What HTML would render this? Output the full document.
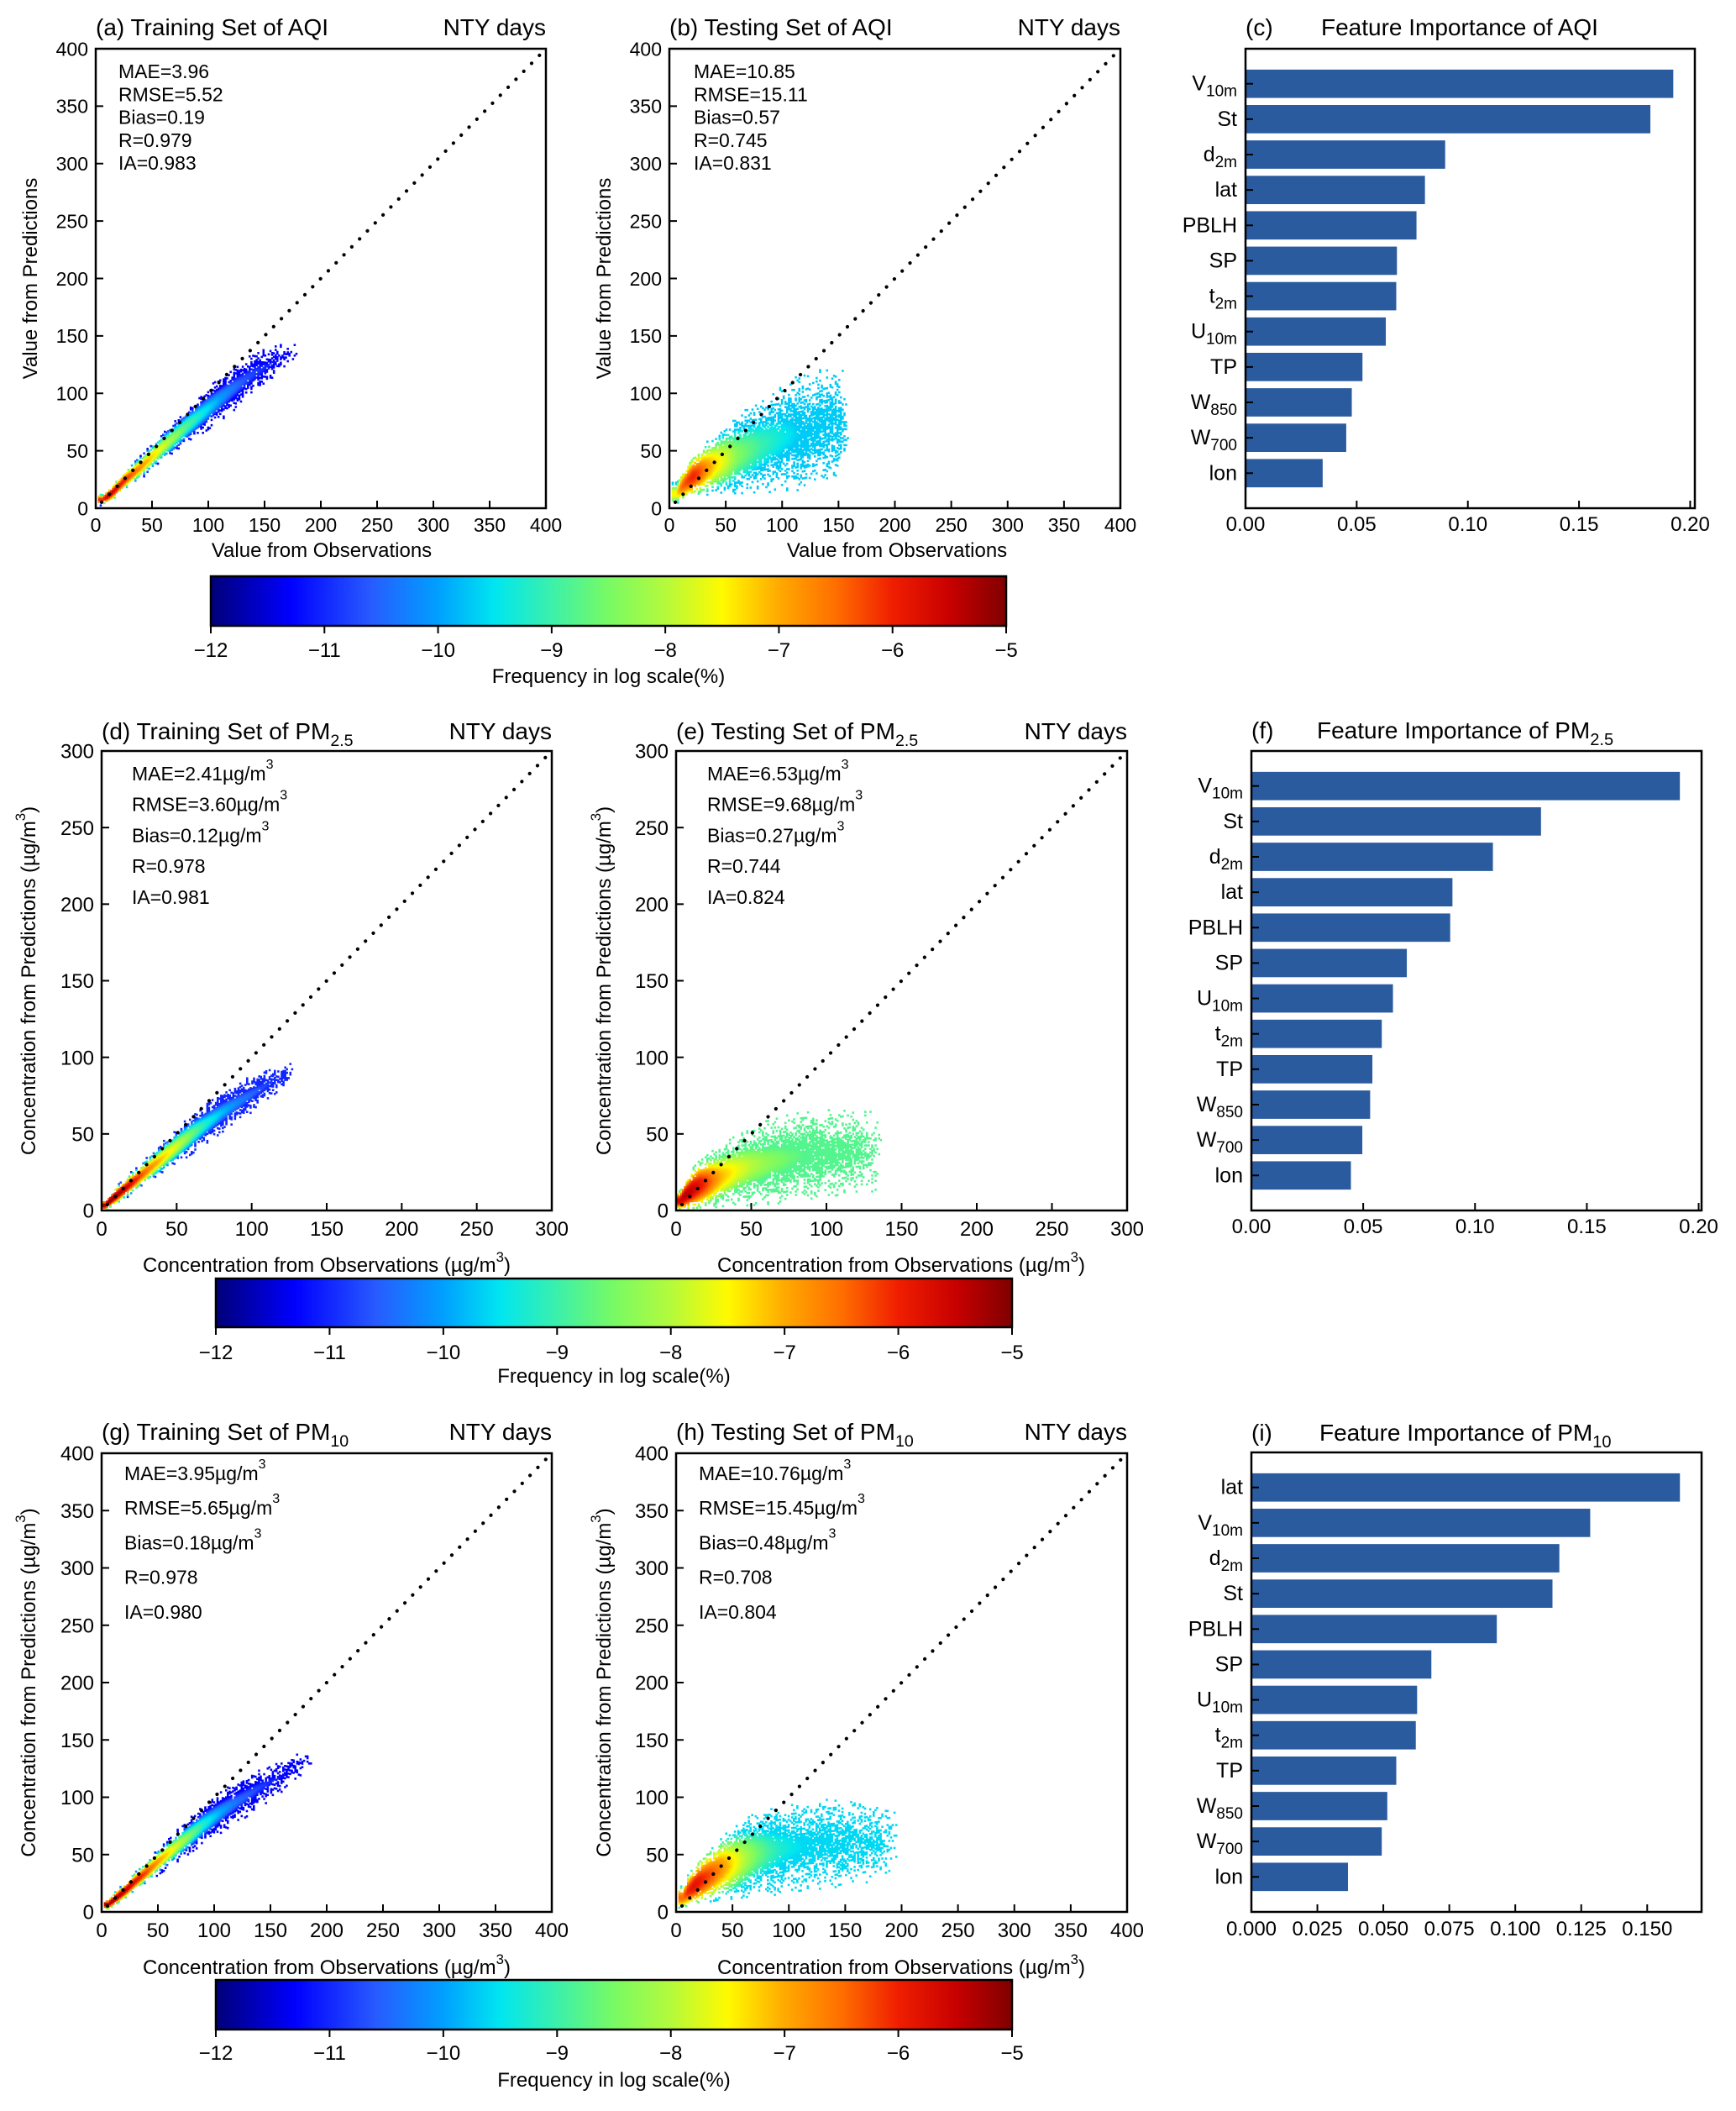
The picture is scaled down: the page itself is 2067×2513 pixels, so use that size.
<!DOCTYPE html>
<html><head><meta charset="utf-8"><title>Model evaluation figure</title>
<style>
html,body{margin:0;padding:0;background:#fff;}
svg{display:block;}
text{font-family:"Liberation Sans",Arial,sans-serif;fill:#000;}
.nar{font-family:"Liberation Sans Narrow","Liberation Sans",sans-serif;}
</style></head>
<body>
<svg id="fig" xmlns="http://www.w3.org/2000/svg" width="2067" height="2513" viewBox="0 0 2067 2513">
<defs>
<linearGradient id="jet" x1="0" x2="1" y1="0" y2="0">
<stop offset="0" stop-color="rgb(0,0,120)"/>
<stop offset="0.1" stop-color="rgb(0,0,255)"/>
<stop offset="0.2" stop-color="rgb(40,90,255)"/>
<stop offset="0.286" stop-color="rgb(0,160,255)"/>
<stop offset="0.357" stop-color="rgb(0,230,240)"/>
<stop offset="0.429" stop-color="rgb(60,240,170)"/>
<stop offset="0.5" stop-color="rgb(120,250,100)"/>
<stop offset="0.571" stop-color="rgb(180,250,60)"/>
<stop offset="0.643" stop-color="rgb(255,250,0)"/>
<stop offset="0.714" stop-color="rgb(255,170,0)"/>
<stop offset="0.786" stop-color="rgb(255,110,0)"/>
<stop offset="0.857" stop-color="rgb(240,30,0)"/>
<stop offset="0.929" stop-color="rgb(200,0,0)"/>
<stop offset="1" stop-color="rgb(128,0,0)"/>
</linearGradient>
</defs>
</svg>
<script>
// ---------- data: scatter density clouds (obs bin, mean prediction, spread, peak log-frequency) ----------
const aObs=[5,10,15,20,25,30,40,50,60,70,80,90,100,110,120,130,140,150,160,170];
const aPred=[7,10,14,19,24,28,36,45,54,62,71,79,87,95,103,110,117,122,128,135];
const aSpread=[4,5,6,6,7,7,8,9,10,11,12,13,14,15,15,15,15,12,10,8];
const aPeak=[-6,-5.5,-5.6,-5.8,-6,-6.3,-6.8,-7.3,-7.8,-8.3,-8.8,-9.2,-9.6,-10,-10.3,-10.6,-10.8,-11,-11.2,-11.4];

const bObs=[5,10,15,20,25,30,40,50,60,70,80,90,100,110,120,130,140,150];
const bPred=[12,18,23,27,30,33,38,42,46,50,54,58,62,64,66,70,72,75];
const bSpread=[8,10,12,14,15,17,20,24,27,30,32,34,36,38,38,38,38,36];
const bPeak=[-7.5,-6.5,-6.2,-6.0,-6.2,-6.6,-7.3,-7.8,-8.4,-8.7,-9,-9.2,-9.4,-9.6,-9.8,-10,-10.2,-10.4];

const dObs=[2,5,10,15,20,25,30,40,50,60,70,80,90,100,110,120];
const dPred=[3,6,10,14,18,22,26,34,42,50,57,64,70,76,82,88];
const dSpread=[3,4,5,5,6,6,7,8,9,10,10,10,10,9,8,6];
const dPeak=[-5.2,-5.1,-5.2,-5.4,-5.8,-6.2,-6.6,-7.2,-7.8,-8.6,-9.3,-9.8,-10.2,-10.5,-10.8,-11];

const eObs=[2,5,10,15,20,25,30,40,50,60,70,80,90,100,120];
const ePred=[6,9,13,16,18,20,22,26,29,31,33,35,36,37,38];
const eSpread=[5,8,11,13,14,15,16,18,20,21,22,22,22,22,20];
const ePeak=[-5.6,-5.4,-5.5,-5.8,-6.2,-6.7,-7.1,-7.6,-8,-8.3,-8.5,-8.7,-8.9,-9.1,-9.3];

const gObs=[5,10,20,30,40,50,60,70,80,90,100,110,120,130,140,150,160,170,180];
const gPred=[6,10,18,27,35,44,52,60,68,76,83,90,96,102,108,113,118,125,130];
const gSpread=[4,5,6,7,8,9,10,11,12,13,14,14,14,14,13,12,10,9,8];
const gPeak=[-5.3,-5.2,-5.4,-5.8,-6.3,-6.9,-7.4,-8,-8.6,-9.2,-9.7,-10.1,-10.4,-10.6,-10.8,-11,-11.2,-11.4,-11.5];

const hObs=[5,10,15,20,30,40,50,60,70,80,90,100,120,140,160,180];
const hPred=[12,18,22,26,32,38,42,46,50,52,54,56,58,60,60,60];
const hSpread=[8,11,13,15,18,21,24,26,28,30,30,30,30,30,28,25];
const hPeak=[-6.5,-6,-5.8,-5.9,-6.3,-6.8,-7.4,-8,-8.5,-8.9,-9.2,-9.4,-9.7,-10,-10.3,-10.6];

// ---------- data: feature importance ----------
const cLabels=["V|10m","St","d|2m","lat","PBLH","SP","t|2m","U|10m","TP","W|850","W|700","lon"];
const cValues=[0.1924,0.1821,0.0898,0.0807,0.0769,0.0681,0.0678,0.0631,0.0526,0.0478,0.0453,0.0347];
const fLabels=["V|10m","St","d|2m","lat","PBLH","SP","U|10m","t|2m","TP","W|850","W|700","lon"];
const fValues=[0.1916,0.1295,0.108,0.0899,0.0889,0.0695,0.0633,0.0583,0.0541,0.0531,0.0496,0.0445];
const iLabels=["lat","V|10m","d|2m","St","PBLH","SP","U|10m","t|2m","TP","W|850","W|700","lon"];
const iValues=[0.1624,0.1284,0.1167,0.1141,0.0930,0.0682,0.0628,0.0623,0.0549,0.0515,0.0494,0.0366];

const aqiTicks=[0,50,100,150,200,250,300,350,400];
const pm25Ticks=[0,50,100,150,200,250,300];
const fiTicks2=["0.00","0.05","0.10","0.15","0.20"];
const fiTicksI=["0.000","0.025","0.050","0.075","0.100","0.125","0.150"];
const cbTicks=[-12,-11,-10,-9,-8,-7,-6,-5];

const NS="http://www.w3.org/2000/svg";
const svg=document.getElementById('fig');
function mk(tag,attrs,parent){const e=document.createElementNS(NS,tag);for(const k in attrs)e.setAttribute(k,attrs[k]);(parent||svg).appendChild(e);return e;}
function txt(s,x,y,size,anchor,parent,cls){const t=mk('text',{x:x,y:y,'font-size':size,'text-anchor':anchor||'start'},parent);if(cls)t.setAttribute('class',cls);t.textContent=s;return t;}

const stops=[[-12,0,0,120],[-11.3,0,0,255],[-10.6,40,90,255],[-10,0,160,255],[-9.5,0,230,240],[-9,60,240,170],[-8.5,120,250,100],[-8,180,250,60],[-7.5,255,250,0],[-7,255,170,0],[-6.5,255,110,0],[-6,240,30,0],[-5.5,200,0,0],[-5,128,0,0]];
function cmap(v){if(v<=stops[0][0])return 'rgb(0,0,120)';for(let i=1;i<stops.length;i++){if(v<=stops[i][0]){const a=stops[i-1],b=stops[i],f=(v-a[0])/(b[0]-a[0]);return 'rgb('+Math.round(a[1]+f*(b[1]-a[1]))+','+Math.round(a[2]+f*(b[2]-a[2]))+','+Math.round(a[3]+f*(b[3]-a[3]))+')';}}return 'rgb(128,0,0)';}
// deterministic texture hash (visual dithering only)
function hash(i,j){const s=Math.sin(i*12.9898+j*78.233)*43758.5453;return s-Math.floor(s);}
function lerpArr(o,arr,x){
  if(x<=o[0])return arr[0];
  for(let i=1;i<o.length;i++){if(x<=o[i]){const f=(x-o[i-1])/(o[i]-o[i-1]);return arr[i-1]+f*(arr[i]-arr[i-1]);}}
  return arr[arr.length-1];
}

function scatter(cfg){
  const g=mk('g',{});
  
  
  const L=cfg.l,R=cfg.r,T=cfg.t,B=cfg.b,M=cfg.max;
  const sx=v=>L+v/M*(R-L), sy=v=>B-v/M*(B-T);
  const cells=mk('g',{},g);
  
  
  const step=M/260, dy=M/260;
  const o=cfg.obs,p=cfg.pred,s=cfg.spread,k=cfg.peak;
  const xs=Math.max(0.5,o[0]-3), xe=o[o.length-1]+(o[o.length-1]-o[o.length-2])*0.8;
  const cw=((R-L)*step/M+0.5).toFixed(2), ch=((B-T)*dy/M+0.5).toFixed(2);
  let ix=0;
  for(let x=xs;x<xe;x+=step,ix++){
    const pr=lerpArr(o,p,x), sp=lerpArr(o,s,x), pk=lerpArr(o,k,x);
    const tail=x>o[o.length-1]?(x-o[o.length-1])/(xe-o[o.length-1]):0;
    let iy=0;
    for(let y=pr-sp*1.3;y<=pr+sp*1.3;y+=dy,iy++){
      if(y<0.5)continue;
      const d=Math.abs(y-pr)/sp;
      const dens=Math.min(1,(pk+12.5)/cfg.solid)*Math.exp(-1.6*d*d)*(1-tail);
      if(hash(ix+cfg.seed,iy)>dens*1.6)continue;
      const lv=Math.max(cfg.edgeMin,pk-cfg.fall*d*d);
      mk('rect',{x:sx(x).toFixed(1),y:sy(y+dy).toFixed(1),width:cw,height:ch,fill:cmap(lv)},cells);
    }
  }
  const ln=mk('line',{x1:sx(M*0.013),y1:sy(M*0.013),x2:sx(M*0.99),y2:sy(M*0.99),stroke:'#000','stroke-width':4.2,'stroke-linecap':'round','stroke-dasharray':'0.1 13.2'},g);
  
  
  const fr=mk('rect',{x:L,y:T,width:R-L,height:B-T,fill:'none',stroke:'#000','stroke-width':2.5},g);
  
  
  const tg=mk('g',{},g);
  
  
  cfg.ticks.forEach(v=>{
    mk('line',{x1:sx(v),x2:sx(v),y1:B,y2:B-9,stroke:'#000','stroke-width':2},tg);
    mk('line',{x1:L,x2:L+9,y1:sy(v),y2:sy(v),stroke:'#000','stroke-width':2},tg);
    const xt=txt(String(v),sx(v),B+cfg.tickDy,cfg.tfs,'middle',tg,cfg.cls);
    
    
    const yt=txt(String(v),L-9,sy(v)+cfg.tfs*0.36,cfg.tfs,'end',tg,cfg.cls);
    
    
  });
  const t1=mk('text',{x:L,y:cfg.titleY,'font-size':cfg.titleFs},g);
  if(cfg.cls)t1.setAttribute('class',cfg.cls);
  
  
  t1.textContent=cfg.title;
  if(cfg.titleSub){const ts=mk('tspan',{'font-size':cfg.titleFs*0.7,dy:8},t1);ts.textContent=cfg.titleSub;}
  const t2=txt('NTY days',R,cfg.titleY,cfg.titleFs,'end',g,cfg.cls);
  
  
  const sg=mk('g',{},g);
  
  
  cfg.stats.forEach((st,i)=>{
    const t=mk('text',{x:cfg.statX,y:cfg.statY+i*cfg.statGap,'font-size':cfg.sfs},sg);
    if(cfg.cls)t.setAttribute('class',cfg.cls);
    if(st.endsWith('µg/m3')){t.textContent=st.slice(0,-1);const sp=mk('tspan',{'font-size':cfg.sfs*0.7,dy:-14},t);sp.textContent='3';}
    else t.textContent=st;
  });
  const yl=mk('text',{x:0,y:0,'font-size':cfg.afs,'text-anchor':'middle',transform:'translate('+cfg.ylx+','+((T+B)/2)+') rotate(-90)'},g);
  
  
  if(cfg.unit){yl.textContent='Concentration from Predictions (µg/m';const a=mk('tspan',{'font-size':cfg.afs*0.7,dy:-12},yl);a.textContent='3';const b=mk('tspan',{dy:12},yl);b.textContent=')';}
  else yl.textContent='Value from Predictions';
  const xl=mk('text',{x:cfg.xlx,y:cfg.xly,'font-size':cfg.afs,'text-anchor':'middle'},g);
  if(cfg.cls)xl.setAttribute('class',cfg.cls);
  
  
  if(cfg.unit){xl.textContent='Concentration from Observations (µg/m';const a=mk('tspan',{'font-size':cfg.afs*0.7,dy:-12},xl);a.textContent='3';const b=mk('tspan',{dy:12},xl);b.textContent=')';}
  else xl.textContent='Value from Observations';
}

function bars(cfg){
  const g=mk('g',{});
  
  
  const L=cfg.l,R=cfg.r,T=cfg.t,B=cfg.b;
  const sx=v=>L+v/cfg.xmax*(R-L);
  const n=cfg.values.length, lo=-0.99, hi=n-1+0.99;
  const sy=i=>T+(i-lo)/(hi-lo)*(B-T);
  const bh=0.8*(B-T)/(hi-lo);
  cfg.values.forEach((v,i)=>{
    const r=mk('rect',{x:L,y:sy(i)-bh/2,width:sx(v)-L,height:bh,fill:'#2a5b9f'},g);
    
    
    mk('line',{x1:L,x2:L+9,y1:sy(i),y2:sy(i),stroke:'#000','stroke-width':2},g);
    const parts=cfg.labels[i].split('|');
    const t=mk('text',{x:L-10,y:sy(i)+8,'font-size':25,'text-anchor':'end'},g);
    
    
    t.textContent=parts[0];
    if(parts[1]){const s=mk('tspan',{'font-size':19,dy:7},t);s.textContent=parts[1];}
  });
  mk('rect',{x:L,y:T,width:R-L,height:B-T,fill:'none',stroke:'#000','stroke-width':2.5},g);
  cfg.ticks.forEach(tl=>{
    const v=parseFloat(tl);
    mk('line',{x1:sx(v),x2:sx(v),y1:B,y2:B-9,stroke:'#000','stroke-width':2},g);
    const t=txt(tl,sx(v),cfg.tickY,24,'middle',g);
    
    
  });
  const a=txt(cfg.tag,L,cfg.titleY,28,'start',g);
  
  
  const t=mk('text',{x:cfg.titleX,y:cfg.titleY,'font-size':28},g);
  
  
  t.textContent=cfg.title;
  if(cfg.sub){const s=mk('tspan',{'font-size':20,dy:8},t);s.textContent=cfg.sub;}
}

function colorbar(x0,x1,y0,y1,labY,titY,cls){
  const g=mk('g',{});
  
  
  mk('rect',{x:x0,y:y0,width:x1-x0,height:y1-y0,fill:'url(#jet)',stroke:'#000','stroke-width':2.5},g);
  cbTicks.forEach(v=>{
    const x=x0+(v+12)/7*(x1-x0);
    mk('line',{x1:x,x2:x,y1:y1,y2:y1+9,stroke:'#000','stroke-width':2},g);
    const t=txt('\u2212'+Math.abs(v),x,labY,24,'middle',g,cls);
    
    
  });
  const t=txt('Frequency in log scale(%)',(x0+x1)/2,titY,24,'middle',g,cls);
  
  
}

// Row 1
scatter({name:'panel-a-aqi-training',l:114,r:650,t:58,b:605,max:400,ticks:aqiTicks,obs:aObs,pred:aPred,spread:aSpread,peak:aPeak,fall:3,edgeMin:-11.3,solid:3,seed:1,
  tickDy:28,tfs:23,title:'(a) Training Set of AQI',titleY:42,titleFs:28,stats:['MAE=3.96','RMSE=5.52','Bias=0.19','R=0.979','IA=0.983'],
  statX:141,statY:93,statGap:27.3,sfs:23,afs:24,ylx:44,xlx:383,xly:663});
scatter({name:'panel-b-aqi-testing',l:797,r:1334,t:58,b:605,max:400,ticks:aqiTicks,obs:bObs,pred:bPred,spread:bSpread,peak:bPeak,fall:2,edgeMin:-9.7,solid:5,seed:7,
  tickDy:28,tfs:23,title:'(b) Testing Set of AQI',titleY:42,titleFs:28,stats:['MAE=10.85','RMSE=15.11','Bias=0.57','R=0.745','IA=0.831'],
  statX:826,statY:93,statGap:27.3,sfs:23,afs:24,ylx:727,xlx:1068,xly:663});
bars({name:'panel-c-aqi-importance',l:1483,r:2018,t:58,b:605,xmax:0.2021,labels:cLabels,values:cValues,ticks:fiTicks2,tickY:632,tag:'(c)',title:'Feature Importance of AQI',titleX:1573,titleY:42});
colorbar(251,1198,686,745,782,813,null);

// Row 2
scatter({name:'panel-d-pm25-training',l:121,r:657,t:894,b:1441,max:300,ticks:pm25Ticks,obs:dObs,pred:dPred,spread:dSpread,peak:dPeak,fall:3.5,edgeMin:-11,solid:3,seed:13,
  tickDy:30,tfs:24,cls:'nar',title:'(d) Training Set of PM',titleSub:'2.5',titleY:880,titleFs:28,stats:['MAE=2.41µg/m3','RMSE=3.60µg/m3','Bias=0.12µg/m3','R=0.978','IA=0.981'],
  statX:157,statY:929,statGap:36.7,sfs:23,afs:24,unit:true,ylx:42,xlx:389,xly:1514});
scatter({name:'panel-e-pm25-testing',l:805,r:1342,t:894,b:1441,max:300,ticks:pm25Ticks,obs:eObs,pred:ePred,spread:eSpread,peak:ePeak,fall:2.5,edgeMin:-8.8,solid:6,seed:21,
  tickDy:30,tfs:24,cls:'nar',title:'(e) Testing Set of PM',titleSub:'2.5',titleY:880,titleFs:28,stats:['MAE=6.53µg/m3','RMSE=9.68µg/m3','Bias=0.27µg/m3','R=0.744','IA=0.824'],
  statX:842,statY:929,statGap:36.7,sfs:23,afs:24,unit:true,ylx:727,xlx:1073,xly:1514});
bars({name:'panel-f-pm25-importance',l:1490,r:2026,t:894,b:1441,xmax:0.2013,labels:fLabels,values:fValues,ticks:fiTicks2,tickY:1468,tag:'(f)',title:'Feature Importance of PM',sub:'2.5',titleX:1568,titleY:879});
colorbar(257,1205,1522,1580,1618,1646,'nar');

// Row 3
scatter({name:'panel-g-pm10-training',l:121,r:657,t:1730,b:2276,max:400,ticks:aqiTicks,obs:gObs,pred:gPred,spread:gSpread,peak:gPeak,fall:3.5,edgeMin:-11.3,solid:3,seed:31,
  tickDy:30,tfs:24,cls:'nar',title:'(g) Training Set of PM',titleSub:'10',titleY:1714,titleFs:28,stats:['MAE=3.95µg/m3','RMSE=5.65µg/m3','Bias=0.18µg/m3','R=0.978','IA=0.980'],
  statX:148,statY:1762,statGap:41.2,sfs:23,afs:24,unit:true,ylx:42,xlx:389,xly:2350});
scatter({name:'panel-h-pm10-testing',l:805,r:1342,t:1730,b:2276,max:400,ticks:aqiTicks,obs:hObs,pred:hPred,spread:hSpread,peak:hPeak,fall:2,edgeMin:-9.6,solid:5,seed:43,
  tickDy:30,tfs:24,cls:'nar',title:'(h) Testing Set of PM',titleSub:'10',titleY:1714,titleFs:28,stats:['MAE=10.76µg/m3','RMSE=15.45µg/m3','Bias=0.48µg/m3','R=0.708','IA=0.804'],
  statX:832,statY:1762,statGap:41.2,sfs:23,afs:24,unit:true,ylx:727,xlx:1073,xly:2350});
bars({name:'panel-i-pm10-importance',l:1490,r:2026,t:1729,b:2276,xmax:0.1706,labels:iLabels,values:iValues,ticks:fiTicksI,tickY:2304,tag:'(i)',title:'Feature Importance of PM',sub:'10',titleX:1571,titleY:1715});
colorbar(257,1205,2357,2416,2452,2484,'nar');
</script>
</body></html>
